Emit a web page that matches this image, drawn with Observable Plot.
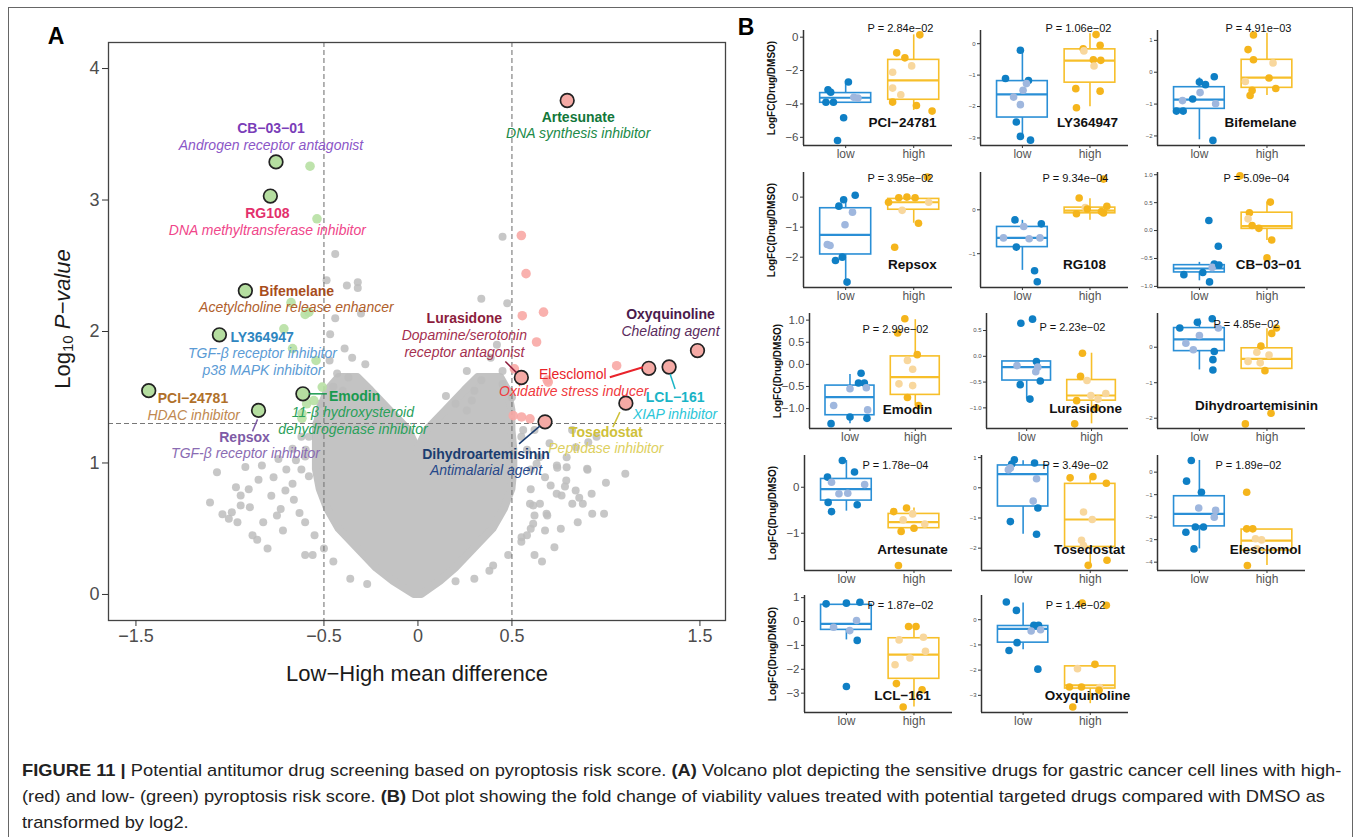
<!DOCTYPE html>
<html>
<head>
<meta charset="utf-8">
<script src="https://cdn.jsdelivr.net/npm/d3@7"></script>
<script src="https://cdn.jsdelivr.net/npm/@observablehq/plot@0.6"></script>
<style>
html,body{margin:0;padding:0;background:#fff;}
#fig{position:relative;width:1355px;height:837px;overflow:hidden;background:#fff;font-family:"Liberation Sans",Arial,sans-serif;}
#fig svg{overflow:visible;}
.cap{position:absolute;left:22px;white-space:nowrap;font-size:17px;color:#222;transform-origin:0 50%;font-family:"Liberation Sans Narrow","Liberation Sans",Arial,sans-serif;line-height:1;}
.ylab{position:absolute;white-space:nowrap;font-weight:bold;font-size:10px;color:#111;line-height:1;transform:translate(-50%,-50%) rotate(-90deg);}
</style>
</head>
<body>
<div id="fig"></div>
<script>
// ================= PANEL A DATA =================
const xTicksA = [-1.5, -0.5, 0, 0.5, 1.5];
const yTicksA = [0, 1, 2, 3, 4];
const pCutoff = 1.3;
const diffCutoffs = [-0.5, 0.5];

const hitNames = ["CB−03−01","RG108","Bifemelane","LY364947","PCI−24781","Emodin","Repsox","Artesunate","Lurasidone","Dihydroartemisinin","Elesclomol","LCL−161","Oxyquinoline","Tosedostat"];
const hitX = [-0.755,-0.785,-0.918,-1.056,-1.432,-0.612,-0.848,0.794,0.55,0.676,1.228,1.336,1.487,1.106];
const hitY = [3.29,3.03,2.31,1.975,1.55,1.526,1.40,3.757,1.65,1.313,1.72,1.73,1.855,1.455];
const hitMoA = ["Androgen receptor antagonist","DNA methyltransferase inhibitor","Acetylcholine release enhancer","TGF-β receptor inhibitor\np38 MAPK inhibitor","HDAC inhibitor","11-β hydroxysteroid\ndehydrogenase inhibitor","TGF-β receptor inhibitor","DNA synthesis inhibitor","Dopamine/serotonin\nreceptor antagonist","Antimalarial agent","Oxidative stress inducer","XIAP inhibitor","Chelating agent","Peptidase inhibitor"];

const greenX = [-0.574,-0.537,-0.675,-0.58,-0.6,-0.713,-0.667,-0.542,-0.509,-0.592,-0.554,-0.617,-0.617];
const greenY = [3.257,2.857,2.22,2.147,2.13,2.02,1.87,1.78,1.577,1.45,1.475,1.376,1.34];
const pinkX = [0.55,0.575,0.555,0.668,0.631,1.057,0.513,0.688,0.507,0.551,0.596,0.693];
const pinkY = [2.73,2.44,2.12,2.147,1.92,1.74,1.716,1.63,1.36,1.35,1.336,1.615];

const grayX = [-0.44,-0.486,-0.378,-0.32,-0.32,-0.44,-0.303,-0.467,-0.39,-0.35,-0.28,-0.47,-0.43,-0.37,-0.45,-0.4,
 0.45,0.337,0.475,0.26,0.387,0.337,0.149,0.287,0.26,0.42,0.45,0.3,0.2,
 -1.069,-1.106,-1.04,-0.99,-0.943,-0.918,-0.83,-0.848,-0.9,-0.968,-0.943,-0.894,-0.823,-0.855,-0.768,-0.705,-0.718,-0.667,-1.006,-0.742,-0.667,-0.597,-0.649,-0.54,-0.78,-0.73,
 0.739,0.789,0.764,0.821,0.902,0.927,0.99,0.877,1.103,0.646,0.613,0.688,0.726,0.676,0.839,0.706,0.924,0.858,0.9,0.791,0.741,0.782,0.738,0.684,0.649,0.596,0.613,0.551,0.791,0.84,0.906,0.676,0.631,
 -0.96,-0.88,-0.8,-0.75,-0.7,-0.62,-0.58,-0.6,-0.45,-0.5,-0.55,-0.6,-0.63,-0.66,-0.62,-0.6,-0.58,-0.52,-0.36,-0.27,-0.56,
 0.62,0.58,0.66,0.7,0.82,0.95,1.0,0.76,0.85,0.55,0.62,0.3,0.4,0.48,0.55,0.6,0.62,0.6,0.6,0.58,0.56,0.5,0.45,0.2,0.38];
const grayY = [2.59,2.39,2.35,2.375,2.33,2.1,2.137,1.98,1.87,1.8,1.75,1.78,1.68,1.65,1.58,1.55,
 2.72,2.25,2.215,1.70,1.80,1.63,1.51,1.475,1.4,1.9,1.6,1.55,1.45,
 0.93,0.70,0.61,0.626,0.677,0.97,0.98,0.872,0.80,0.816,0.753,0.664,0.55,0.416,0.892,0.79,0.487,0.842,0.576,1.03,1.108,1.1,1.02,1.3,0.75,0.65,
 0.98,0.867,0.753,0.69,0.948,0.614,0.614,0.69,0.918,1.044,0.677,0.6,0.36,0.487,0.79,0.829,0.766,0.735,0.956,0.968,0.964,0.821,0.766,0.614,0.69,0.69,0.538,0.436,1.044,1.12,1.158,0.892,0.994,
 0.55,0.45,0.35,0.6,0.95,1.2,0.9,0.3,0.25,0.35,0.45,0.55,0.62,0.72,0.95,1.05,1.2,1.45,0.12,0.08,0.3,
 0.3,0.45,0.25,1.15,1.25,1.2,0.85,0.5,0.55,1.2,1.25,0.12,0.22,0.3,0.4,0.5,0.6,0.8,0.95,1.1,1.25,1.5,1.7,0.1,0.18];

// dense (non-significant) V-shaped cloud, outline
const cloudY      = [0, 0.1, 0.2, 0.35, 0.5, 0.65, 0.8, 0.95, 1.1, 1.25, 1.4, 1.55, 1.65];
const leftOuter   = [-0.02,-0.13,-0.22,-0.32,-0.42,-0.48,-0.52,-0.54,-0.54,-0.54,-0.52,-0.48,-0.42];
const leftInner   = [0,0,0,0,0,0,0,0,0,-0.05,-0.15,-0.25,-0.32];
const rightInner  = [0,0,0,0,0,0,0,0,0,0.05,0.15,0.25,0.32];
const rightOuter  = [0.02,0.12,0.2,0.3,0.4,0.46,0.5,0.51,0.51,0.5,0.5,0.48,0.44];

// ================= PANEL B DATA =================
const groupLabels = ["low", "high"];
const bNames = ["PCI−24781","LY364947","Bifemelane","Repsox","RG108","CB−03−01","Emodin","Lurasidone","Dihydroartemisinin","Artesunate","Tosedostat","Elesclomol","LCL−161","Oxyquinoline"];
const bPvals = ["P = 2.84e−02","P = 1.06e−02","P = 4.91e−03","P = 3.95e−02","P = 9.34e−04","P = 5.09e−04","P = 2.99e−02","P = 2.23e−02","P = 4.85e−02","P = 1.78e−04","P = 3.49e−02","P = 1.89e−02","P = 1.87e−02","P = 1.4e−02"];
// points: [group(1 low / 2 high), jittered x, logFC, faded]
const pci24781Pts = [[1,1.04,-2.69,0],[1,0.74,-3.15,0],[1,0.78,-3.3,0],[1,0.71,-3.9,0],[1,0.82,-3.9,0],[1,1.12,-3.6,1],[1,1.18,-3.65,1],[1,0.97,-4.83,0],[1,0.88,-6.19,0],
 [2,2.09,0.14,0],[2,1.75,-0.94,0],[2,1.87,-1.24,0],[2,1.97,-1.72,1],[2,1.69,-2.1,1],[2,1.69,-3.05,1],[2,1.81,-3.45,1],[2,1.69,-3.89,0],[2,2.04,-4.09,0],[2,2.27,-4.43,0]];
const ly364947Pts = [[1,0.97,-0.21,0],[1,0.75,-1.11,0],[1,1.09,-1.17,0],[1,1.06,-1.27,1],[1,1.01,-1.48,1],[1,0.87,-1.7,1],[1,0.97,-1.94,1],[1,0.91,-2.49,0],[1,0.97,-2.95,0],[1,1.12,-3.07,0],
 [2,2.09,0.29,0],[2,2.15,-0.05,0],[2,1.9,-0.16,0],[2,1.91,-0.23,1],[2,2.05,-0.51,0],[2,2.16,-0.53,0],[2,2.06,-0.71,1],[2,1.79,-1.43,0],[2,2.15,-1.51,0],[2,1.8,-2.04,0]];
const bifemelanePts = [[1,1.22,-0.14,0],[1,1.09,-0.39,0],[1,1.0,-0.31,0],[1,1.01,-0.64,1],[1,0.9,-0.84,0],[1,0.75,-0.89,1],[1,1.24,-0.99,1],[1,0.66,-1.22,0],[1,0.76,-1.22,0],[1,1.2,-2.14,0],
 [2,1.8,1.17,0],[2,1.72,0.71,0],[2,1.8,0.39,0],[2,2.09,0.29,1],[2,1.68,-0.29,1],[2,2.03,-0.18,0],[2,2.13,-0.51,0],[2,1.78,-0.57,0],[2,1.75,-0.73,0]];
const repsoxPts = [[1,1.14,0.06,0],[1,0.97,-0.09,0],[1,0.9,-0.3,0],[1,1.1,-0.5,1],[1,0.99,-0.92,1],[1,0.73,-1.58,1],[1,0.77,-1.61,1],[1,0.95,-2.0,0],[1,0.85,-2.11,0],[1,1.02,-2.83,0],
 [2,2.2,0.67,0],[2,1.78,-0.02,0],[2,1.9,0.0,0],[2,2.02,-0.02,0],[2,1.63,-0.17,0],[2,2.22,-0.17,1],[2,1.83,-0.44,1],[2,2.07,-0.87,0],[2,1.72,-1.67,0]];
const rg108Pts = [[1,0.89,-0.23,0],[1,1.02,-0.38,1],[1,1.28,-0.32,0],[1,0.72,-0.64,1],[1,1.1,-0.66,1],[1,1.26,-0.64,1],[1,0.91,-0.85,0],[1,1.18,-1.39,0],[1,1.22,-1.64,0],
 [2,1.84,0.27,0],[2,1.8,-0.09,0],[2,1.93,0.05,1],[2,1.96,0.02,0],[2,2.25,0.08,0],[2,2.17,-0.04,0],[2,2.2,-0.07,0],[2,2.2,0.7,0]];
const cb0301Pts = [[1,1.14,0.18,0],[1,1.28,-0.28,0],[1,1.22,-0.6,0],[1,0.77,-0.79,0],[1,1.05,-0.75,0],[1,1.15,-0.92,0],[1,1.19,-0.66,1],[1,1.29,-0.62,0],
 [2,2.05,0.51,0],[2,1.74,0.32,0],[2,1.72,0.21,1],[2,1.78,0.09,0],[2,1.88,0.04,0],[2,2.07,-0.17,0],[2,2.0,-0.49,0],[2,1.6,0.98,0]];
const emodinPts = [[1,1.17,-0.2,0],[1,1.13,-0.42,0],[1,1.22,-0.42,0],[1,1.0,-0.55,1],[1,1.25,-0.53,1],[1,0.75,-0.93,1],[1,1.27,-1.03,1],[1,1.0,-1.19,0],[1,1.26,-1.22,0],[1,0.71,-1.34,0],
 [2,1.84,1.03,0],[2,1.73,0.71,0],[2,2.03,0.22,0],[2,1.88,0.09,1],[2,1.96,-0.11,1],[2,1.75,-0.44,1],[2,1.96,-0.48,1],[2,1.88,-0.75,0],[2,2.05,-0.93,0]];
const lurasidonePts = [[1,0.91,0.64,0],[1,1.09,0.72,0],[1,1.15,-0.1,0],[1,0.85,-0.18,1],[1,1.17,-0.21,1],[1,1.14,-0.3,1],[1,0.9,-0.55,0],[1,1.21,-0.48,0],[1,1.05,-0.83,0],
 [2,1.86,0.06,0],[2,1.83,-0.39,0],[2,1.93,-0.47,1],[2,1.77,-0.86,0],[2,1.99,-0.76,1],[2,2.1,-0.83,1],[2,2.22,-0.72,1],[2,2.07,-1.0,0],[2,1.74,-1.31,0]];
const dihydroPts = [[1,0.71,0.54,0],[1,0.97,0.7,0],[1,1.19,0.8,0],[1,1.28,0.54,1],[1,1.0,0.33,1],[1,0.8,0.11,1],[1,0.91,-0.07,1],[1,1.22,-0.12,0],[1,1.2,-0.35,0],[1,1.2,-0.64,0],
 [2,2.14,0.54,0],[2,2.07,0.39,0],[2,1.91,0.03,0],[2,1.85,-0.14,1],[2,2.03,-0.22,1],[2,1.72,-0.4,1],[2,1.9,-0.44,1],[2,1.97,-0.66,0],[2,2.06,-1.86,0],[2,1.68,-2.16,0]];
const artesunatePts = [[1,0.94,0.58,0],[1,1.12,0.33,0],[1,0.72,0.22,0],[1,0.78,0.11,1],[1,1.27,0.06,1],[1,0.89,-0.14,1],[1,1.02,-0.13,1],[1,0.73,-0.33,0],[1,1.16,-0.38,0],[1,0.78,-0.53,0],
 [2,1.89,-0.45,0],[2,1.7,-0.53,0],[2,1.98,-0.58,1],[2,1.84,-0.71,1],[2,2.16,-0.8,1],[2,2.0,-0.89,0],[2,1.81,-0.96,0],[2,1.77,-1.7,0]];
const tosedostatPts = [[1,0.87,0.93,0],[1,0.83,0.79,0],[1,1.17,0.82,0],[1,0.78,0.6,1],[1,0.81,0.66,1],[1,1.2,0.3,1],[1,1.15,-0.44,1],[1,1.22,-0.67,0],[1,0.81,-1.12,0],[1,1.2,-1.54,0],
 [2,1.7,0.33,0],[2,2.04,0.37,0],[2,2.24,0.15,0],[2,1.9,-0.8,1],[2,2.03,-1.05,1],[2,1.87,-1.74,1],[2,1.9,-1.91,1],[2,1.97,-2.57,0],[2,2.25,-2.4,0]];
const elesclomolPts = [[1,0.88,0.52,0],[1,0.81,-0.4,0],[1,1.03,-0.89,0],[1,0.99,-1.59,1],[1,1.24,-1.7,1],[1,1.22,-2.0,1],[1,1.06,-2.44,0],[1,0.94,-2.44,0],[1,0.8,-2.67,0],[1,0.92,-3.41,0],
 [2,1.7,-0.89,0],[2,1.7,-2.52,0],[2,1.79,-2.52,0],[2,1.83,-2.96,1],[2,1.92,-3.01,1],[2,1.85,-3.41,1],[2,1.71,-4.15,0]];
const lcl161Pts = [[1,0.7,0.74,0],[1,1.2,0.81,0],[1,1.0,0.77,0],[1,0.81,-0.24,1],[1,1.15,0.04,1],[1,1.05,-0.38,1],[1,1.16,-0.79,0],[1,1.0,-2.72,0],
 [2,1.92,-0.21,0],[2,2.03,-0.21,0],[2,1.78,-0.77,1],[2,2.14,-0.66,1],[2,2.17,-1.25,1],[2,1.94,-1.53,1],[2,1.72,-1.81,1],[2,1.74,-2.6,0],[2,2.12,-2.86,0],[2,1.84,-3.58,0]];
const oxyquinolinePts = [[1,0.75,0.7,0],[1,0.9,0.37,0],[1,1.16,-0.22,0],[1,1.23,-0.22,0],[1,1.12,-0.45,1],[1,1.26,-0.4,1],[1,0.91,-0.91,0],[1,0.79,-1.22,0],[1,1.22,-1.96,0],
 [2,2.24,0.57,0],[2,1.88,0.66,0],[2,2.07,-1.77,0],[2,1.81,-1.94,1],[2,2.14,-2.69,1],[2,1.69,-2.67,0],[2,1.87,-2.67,0],[2,2.13,-2.8,0],[2,1.74,-3.46,0]];

// box statistics per drug: [lower whisker, Q1, median, Q3, upper whisker] for low, high
const pci24781Box = [[-3.93,-3.93,-3.63,-3.35,-2.65],[-4.39,-3.75,-2.59,-1.36,0.14]];
const ly364947Box = [[-3.0,-2.35,-1.61,-1.19,-0.16],[-2.01,-1.24,-0.54,-0.18,0.32]];
const bifemelaneBox = [[-2.12,-1.15,-0.86,-0.47,-0.18],[-0.73,-0.49,-0.17,0.39,1.22]];
const repsoxBox = [[-2.83,-1.91,-1.26,-0.37,-0.09],[-0.87,-0.42,-0.17,-0.06,-0.02]];
const rg108Box = [[-1.38,-0.85,-0.64,-0.39,-0.24],[-0.24,-0.08,-0.02,0.05,0.25]];
const cb0301Box = [[-0.9,-0.75,-0.68,-0.62,-0.57],[-0.18,0.03,0.08,0.32,0.51]];
const emodinBox = [[-1.34,-1.15,-0.74,-0.48,-0.23],[-0.93,-0.69,-0.29,0.18,1.01]];
const lurasidoneBox = [[-0.83,-0.47,-0.21,-0.1,-0.1],[-1.31,-0.86,-0.76,-0.46,0.06]];
const dihydroBox = [[-0.64,-0.11,0.22,0.54,0.8],[-0.66,-0.61,-0.33,-0.03,0.52]];
const artesunateBox = [[-0.52,-0.29,-0.04,0.18,0.58],[-0.96,-0.89,-0.76,-0.58,-0.45]];
const tosedostatBox = [[-1.54,-0.62,0.45,0.74,0.9],[-2.57,-1.96,-1.05,0.13,0.35]];
const elesclomolBox = [[-3.41,-2.41,-1.85,-1.07,0.52],[-4.15,-3.48,-3.04,-2.55,-2.55]];
const lcl161Box = [[-0.77,-0.35,-0.1,0.7,0.77],[-3.58,-2.4,-1.39,-0.7,-0.21]];
const oxyquinolineBox = [[-1.19,-0.91,-0.36,-0.25,0.66],[-3.33,-2.73,-2.6,-1.85,-1.85]];

const bPoints = [pci24781Pts,ly364947Pts,bifemelanePts,repsoxPts,rg108Pts,cb0301Pts,emodinPts,lurasidonePts,dihydroPts,artesunatePts,tosedostatPts,elesclomolPts,lcl161Pts,oxyquinolinePts];
const bBoxes = [pci24781Box,ly364947Box,bifemelaneBox,repsoxBox,rg108Box,cb0301Box,emodinBox,lurasidoneBox,dihydroBox,artesunateBox,tosedostatBox,elesclomolBox,lcl161Box,oxyquinolineBox];
const bYTicks = [[0,-2,-4,-6],[0,-1,-2,-3],[1,0,-1,-2],[0,-1,-2],[0,-1],[1,0.5,0,-0.5,-1],[1,0.5,0,-0.5,-1],[0.5,0,-0.5,-1],[0,-1,-2],[0,-1],[1,0,-1,-2],[0,-1,-2,-3,-4],[1,0,-1,-2,-3],[0,-1,-2,-3]];
const bYDomains = [[-6.49,0.4],[-3.24,0.42],[-2.3,1.31],[-3.01,0.82],[-1.77,0.85],[-1.02,1.04],[-1.45,1.15],[-1.4,0.83],[-2.29,0.95],[-1.81,0.69],[-2.74,1.07],[-4.37,0.74],[-3.81,1.09],[-3.68,0.96]];

// ================= LAYOUT (positions / styles) =================
const fig = document.getElementById("fig");
function place(el, left, top) { el.style.position = "absolute"; el.style.left = left + "px"; el.style.top = top + "px"; fig.appendChild(el); }
const FONT = "Liberation Sans, Arial, sans-serif";
const NARROW = "Liberation Sans Narrow, Liberation Sans, Arial, sans-serif";

// ---------- Panel A ----------
const A = {w: 740, h: 720, ml: 108, mr: 15, mt: 42, mb: 100};
const xDomA = [-1.646, 1.636], yDomA = [-0.198, 4.198];
const kx = (A.w - A.ml - A.mr) / (xDomA[1] - xDomA[0]);
const ky = (A.h - A.mt - A.mb) / (yDomA[1] - yDomA[0]);

const hits = hitNames.map((n, i) => ({name: n, x: hitX[i], y: hitY[i], moa: hitMoA[i]}));
const greens = greenX.map((x, i) => ({x, y: greenY[i]}));
const pinks = pinkX.map((x, i) => ({x, y: pinkY[i]}));
const nG = Math.min(grayX.length, grayY.length);
const grays = grayX.slice(0, nG).map((x, i) => ({x, y: grayY[i]}));
const leftArm = cloudY.map((y, i) => ({y, x1: leftOuter[i], x2: leftInner[i]}));
const rightArm = cloudY.map((y, i) => ({y, x1: rightInner[i], x2: rightOuter[i]}));

// annotation layout: pixel offsets from circled point
const ann = {
  "CB−03−01":  {nc:"#7a3db8", sc:"#8b56c7", nx:-5, ny:-33, na:"middle", sx:-5, sy:-16},
  "RG108":     {nc:"#e3306c", sc:"#f0468a", nx:-3, ny:17, na:"middle", sx:-3, sy:34},
  "Bifemelane":{nc:"#a84d1c", sc:"#b0602c", nx:14, ny:1, na:"start", sx:51, sy:17},
  "LY364947":  {nc:"#2f86c0", sc:"#5b9bd5", nx:11, ny:3, na:"start", sx:43, sy:19},
  "PCI−24781": {nc:"#b0702a", sc:"#c08850", nx:9, ny:8, na:"start", sx:45, sy:25},
  "Emodin":    {nc:"#1a9a4f", sc:"#2aa05a", nx:26, ny:3, na:"start", sx:50, sy:19, link:[6,0,24,0]},
  "Repsox":    {nc:"#7e5ba6", sc:"#8a6cb3", nx:-14, ny:27, na:"middle", sx:-13, sy:43, link:[-1,9,-6,21]},
  "Artesunate":{nc:"#12773a", sc:"#208a48", nx:11, ny:17, na:"middle", sx:11, sy:33},
  "Lurasidone":{nc:"#8c1c3c", sc:"#a4304f", nx:-57, ny:-59, na:"middle", sx:-57, sy:-42, link:[-16,-16,-5,-5]},
  "Dihydroartemisinin":{nc:"#1b3d70", sc:"#27498a", nx:-59, ny:33, na:"middle", sx:-59, sy:49, link:[-5,4,-26,22]},
  "Elesclomol":{nc:"#e9232b", sc:"#f03a40", nx:-76, ny:6, na:"middle", sx:-75, sy:23, link:[-39,9,-6,-1], nw:"normal", lw:2},
  "LCL−161":   {nc:"#19b4c6", sc:"#2cc6d8", nx:6, ny:31, na:"middle", sx:6, sy:48, link:[1,7,6,22]},
  "Oxyquinoline":{nc:"#4a1a4c", sc:"#5b2c5d", nx:-27, ny:-36, na:"middle", sx:-27, sy:-19},
  "Tosedostat":{nc:"#cfc13a", sc:"#ddd060", nx:-20, ny:29, na:"middle", sx:-20, sy:45, link:[-6,9,-13,24]}
};

const annMarks = [];
for (const h of hits) {
  const a = ann[h.name];
  if (a.link) {
    const [ax1, ay1, ax2, ay2] = a.link;
    annMarks.push(Plot.link([h], {x1: d => d.x + ax1 / kx, y1: d => d.y - ay1 / ky, x2: d => d.x + ax2 / kx, y2: d => d.y - ay2 / ky,
      stroke: a.nc, strokeWidth: a.lw || 1.5}));
  }
  annMarks.push(Plot.text([h], {x: "x", y: "y", text: "name", dx: a.nx, dy: a.ny, textAnchor: a.na,
    fill: a.nc, fontWeight: a.nw || "bold", fontSize: 14, fontFamily: FONT}));
  h.moa.split("\n").forEach((line, li) => {
    annMarks.push(Plot.text([line], {x: () => h.x, y: () => h.y, text: d => d, dx: a.sx, dy: a.sy + li * 17, textAnchor: "middle",
      fill: a.sc, fontStyle: "italic", fontSize: 14, fontFamily: FONT}));
  });
}

const fmtA = d => (d < 0 ? "−" : "") + Math.abs(d);
const cloudStyle = {y: "y", x1: "x1", x2: "x2", fill: "#c3c3c3", stroke: "#c3c3c3", strokeWidth: 8, strokeLinejoin: "round", curve: "linear"};
const plotA = Plot.plot({
  width: A.w, height: A.h, marginLeft: A.ml, marginRight: A.mr, marginTop: A.mt, marginBottom: A.mb,
  x: {domain: xDomA}, y: {domain: yDomA},
  style: {background: "transparent", overflow: "visible", fontFamily: FONT},
  marks: [
    Plot.areaX(leftArm, cloudStyle),
    Plot.areaX(rightArm, cloudStyle),
    Plot.dot(grays, {x: "x", y: "y", r: 4, fill: "#bdbdbd", fillOpacity: 0.85}),
    Plot.ruleX(diffCutoffs, {stroke: "#777", strokeDasharray: "5,3", strokeWidth: 1.1}),
    Plot.ruleY([pCutoff], {stroke: "#777", strokeDasharray: "5,3", strokeWidth: 1.1}),
    Plot.dot(greens, {x: "x", y: "y", r: 4.8, fill: "#b7e0a3", fillOpacity: 0.9}),
    Plot.dot(pinks, {x: "x", y: "y", r: 4.8, fill: "#f8a9a5", fillOpacity: 0.9}),
    Plot.dot(hits, {x: "x", y: "y", r: 6.8, fill: d => d.x < 0 ? "#b5dea0" : "#f5aaa5", stroke: "#222", strokeWidth: 1.7}),
    ...annMarks,
    Plot.frame({stroke: "#444", strokeWidth: 1.3}),
    Plot.axisX({ticks: xTicksA, tickFormat: fmtA, tickSize: 6, tickPadding: 3, fontSize: 18, fontFamily: NARROW, fill: "#4d4d4d", stroke: "#333", label: null}),
    Plot.axisY({ticks: yTicksA, tickFormat: fmtA, tickSize: 6, tickPadding: 3, fontSize: 18, fontFamily: NARROW, fill: "#4d4d4d", stroke: "#333", label: null}),
    Plot.text(["Low−High mean difference"], {frameAnchor: "bottom", dy: 60, text: d => d, fontSize: 22, fill: "#1a1a1a", fontFamily: FONT})
  ]
});
place(plotA, 0, 0);

// y title with subscript and italics
const yt = document.createElement("div");
yt.innerHTML = 'Log<sub style="font-size:15px;vertical-align:-3px">10</sub> <i>P−value</i>';
yt.style.cssText = "position:absolute;left:63px;top:319px;font-size:22px;color:#1a1a1a;white-space:nowrap;transform:translate(-50%,-50%) rotate(-90deg);line-height:1;";
fig.appendChild(yt);

// ---------- Panel B ----------
// [x0 axis, top, bottom, right, pdx, pdy, ndx, ndy]
const bLayout = [
  [803,30,145,952, 97,-6, 99,-19],[980,30,145,1128, 98,-6, 107,-19],[1157,30,145,1305, 101,-6, 103,-19],
  [803,172,287,952, 97,2, 109,-19],[980,172,287,1128, 95,2, 104,-19],[1157,172,287,1305, 99,2, 111,-19],
  [809,313,428,952, 86,12, 98,-15],[986,313,428,1128, 86,10, 99,-16],[1157,313,428,1305, 89,7, 99,-19],
  [804,455,570,952, 91,6, 108,-17],[981,455,570,1128, 94,6, 108,-17],[1157,455,570,1305, 91,6, 108,-17],
  [804,595,712,952, 96,6, 98,-13],[981,595,712,1128, 94,6, 106,-13]
];
const darkCol = ["#0f7fc5", "#f5b51c"], lightCol = ["#9fb7de", "#f8d79d"], boxCol = ["#2a8fd6", "#f7bf2a"];
const xDomB = [0.38, 2.57];

bNames.forEach((name, i) => {
  const [x0, top, bottom, right, pdx, pdy, ndx, ndy] = bLayout[i];
  const col = i % 3;
  const ml = 48, mr = 80, mt = 24, mb = 24;
  const w = right - x0 + ml + mr, h = bottom - top + mt + mb;
  const yDom = bYDomains[i];
  const dec = bYTicks[i].some(t => !Number.isInteger(t));
  const fmt = d => (d < 0 ? "−" : "") + (dec ? Math.abs(d).toFixed(1) : Math.abs(d));
  const pts = bPoints[i].map(([g, x, v, f]) => ({g, x, v, f}));
  const boxes = bBoxes[i].map((s, k) => ({g: k + 1, lo: s[0], q1: s[1], med: s[2], q3: s[3], hi: s[4]}));
  const marks = [
    Plot.ruleX(boxes, {x: "g", y1: "lo", y2: "q1", stroke: d => boxCol[d.g - 1], strokeWidth: 1.6}),
    Plot.ruleX(boxes, {x: "g", y1: "q3", y2: "hi", stroke: d => boxCol[d.g - 1], strokeWidth: 1.6}),
    Plot.rect(boxes, {x1: d => d.g - 0.375, x2: d => d.g + 0.375, y1: "q1", y2: "q3", fill: "none", stroke: d => boxCol[d.g - 1], strokeWidth: 1.6}),
    Plot.ruleY(boxes, {y: "med", x1: d => d.g - 0.375, x2: d => d.g + 0.375, stroke: d => boxCol[d.g - 1], strokeWidth: 2.2}),
    Plot.dot(pts, {x: "x", y: "v", r: 3.8, fill: d => d.f ? lightCol[d.g - 1] : darkCol[d.g - 1]}),
    Plot.ruleY([yDom[0]], {stroke: "#333", strokeWidth: 1.5}),
    Plot.ruleX([xDomB[0]], {stroke: "#333", strokeWidth: 1.5}),
    Plot.axisY({ticks: bYTicks[i], tickFormat: fmt, tickSize: 3, tickPadding: 2, fontSize: col === 0 ? 11.5 : 6, fill: "#4d4d4d", stroke: "#333", label: null}),
    Plot.axisX({ticks: [1, 2], tickFormat: d => groupLabels[d - 1], tickSize: 3, tickPadding: 1, fontSize: 12, fill: "#555", stroke: "#333", label: null}),
    Plot.text([bPvals[i]], {frameAnchor: "top-left", dx: pdx, dy: pdy, text: d => d, fontSize: 11, fill: "#111", textAnchor: "middle"}),
    Plot.text([name], {frameAnchor: "bottom-left", dx: ndx, dy: ndy, text: d => d, fontSize: 13.5, fontWeight: "bold", fill: "#111", textAnchor: "middle"})
  ];
  const chart = Plot.plot({
    width: w, height: h, marginLeft: ml, marginRight: mr, marginTop: mt, marginBottom: mb,
    x: {domain: xDomB}, y: {domain: yDom},
    style: {background: "transparent", overflow: "visible", fontFamily: FONT},
    marks
  });
  place(chart, x0 - ml, top - mt);
  if (col === 0) {
    const yl = document.createElement("div");
    yl.className = "ylab";
    yl.textContent = "LogFC(Drug/DMSO)";
    yl.style.left = (x0 - 31) + "px";
    yl.style.top = ((top + bottom) / 2) + "px";
    fig.appendChild(yl);
  }
});

// panel letters
for (const [t, l, tp] of [["A", 56, 36], ["B", 746, 27]]) {
  const d = document.createElement("div");
  d.textContent = t;
  d.style.cssText = `position:absolute;left:${l}px;top:${tp}px;transform:translate(-50%,-50%);font-weight:bold;font-size:23px;color:#000;line-height:1;`;
  fig.appendChild(d);
}

// outer border
const bd = document.createElement("div");
bd.style.cssText = "position:absolute;left:8px;top:7px;width:1343px;height:900px;border:1.5px solid #666;border-bottom:none;";
fig.appendChild(bd);

// caption
const capLines = [
  '<b>FIGURE 11 |</b> Potential antitumor drug screening based on pyroptosis risk score. <b>(A)</b> Volcano plot depicting the sensitive drugs for gastric cancer cell lines with high-',
  '(red) and low- (green) pyroptosis risk score. <b>(B)</b> Dot plot showing the fold change of viability values treated with potential targeted drugs compared with DMSO as',
  'transformed by log2.'
];
const capEls = capLines.map((html, k) => {
  const d = document.createElement("div");
  d.className = "cap";
  d.innerHTML = html;
  d.style.top = (762 + k * 26) + "px";
  fig.appendChild(d);
  return d;
});
const s = 1303 / capEls[1].getBoundingClientRect().width;
capEls.forEach(d => d.style.transform = `scaleX(${s})`);
</script>
</body>
</html>
